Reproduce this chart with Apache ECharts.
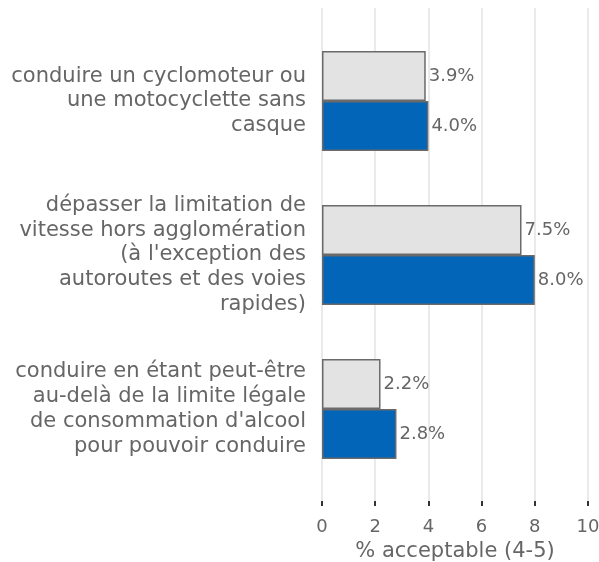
<!DOCTYPE html>
<html>
<head>
<meta charset="utf-8">
<script src="https://cdn.jsdelivr.net/npm/echarts@6/dist/echarts.min.js"></script>
<style>
	html, body { margin: 0; padding: 0; background: #fff; }
	#chart { width: 599px; height: 562px; }
</style>
</head>
<body>
<div id="chart"></div>
<script>
var categories = [
	'conduire un cyclomoteur ou\nune motocyclette sans\ncasque',
	'dépasser la limitation de\nvitesse hors agglomération\n(à l\'exception des\nautoroutes et des voies\nrapides)',
	'conduire en étant peut-être\nau-delà de la limite légale\nde consommation d\'alcool\npour pouvoir conduire'
];
var previousValues = [3.9, 7.5, 2.2];
var currentValues = [4.0, 8.0, 2.8];
var xTicks = [0, 2, 4, 6, 8, 10];

var chartDom = document.getElementById('chart');
var myChart = echarts.init(chartDom);
var font = 'DejaVu Sans';

var option = {
	animation: false,
	grid: [
		{ left: 322, right: 11, top: 24, bottom: 76, outerBoundsMode: 'none' },
		{ left: 322, right: 11, top: 8, bottom: 61, outerBoundsMode: 'none' }
	],
	xAxis: [{
		gridIndex: 0,
		type: 'value',
		min: 0,
		max: 10,
		interval: 2,
		show: false
	}, {
		gridIndex: 1,
		type: 'value',
		min: xTicks[0],
		max: xTicks[xTicks.length - 1],
		interval: 2,
		axisLine: { show: false },
		axisTick: { show: true, length: 5, lineStyle: { color: '#333', width: 2 } },
		splitLine: { show: true, lineStyle: { color: '#e3e3e3', width: 1.5 } },
		axisLabel: { color: '#666', fontSize: 18, fontFamily: font, margin: 17 },
		name: '% acceptable (4-5)',
		nameLocation: 'middle',
		nameGap: 40,
		nameTextStyle: { color: '#666', fontSize: 21, fontFamily: font }
	}],
	yAxis: [{
		gridIndex: 0,
		type: 'category',
		data: categories,
		inverse: true,
		axisLine: { show: false },
		axisTick: { show: false },
		axisLabel: {
			color: '#666',
			fontSize: 21,
			fontFamily: font,
			lineHeight: 24.8,
			margin: 16,
			align: 'right',
			verticalAlign: 'middle',
			padding: [12, 0, 0, 0]
		}
	}, {
		gridIndex: 1,
		type: 'value',
		show: false
	}],
	series: [{
		name: 'précédent',
		type: 'bar',
		xAxisIndex: 0,
		yAxisIndex: 0,
		data: previousValues,
		barWidth: 50,
		barGap: '0%',
		itemStyle: { color: '#e3e3e3', borderColor: '#6b6b6b', borderWidth: 1.5 },
		label: {
			show: true,
			position: 'right',
			distance: 3,
			color: '#666',
			fontSize: 18,
			fontFamily: font,
			formatter: function (p) { return p.value.toFixed(1) + '%'; }
		}
	}, {
		name: 'actuel',
		type: 'bar',
		xAxisIndex: 0,
		yAxisIndex: 0,
		data: currentValues,
		barWidth: 50,
		barGap: '0%',
		itemStyle: { color: '#0265b8', borderColor: '#6b6b6b', borderWidth: 1.5 },
		label: {
			show: true,
			position: 'right',
			distance: 3,
			color: '#666',
			fontSize: 18,
			fontFamily: font,
			formatter: function (p) { return p.value.toFixed(1) + '%'; }
		}
	}]
};

myChart.setOption(option);
</script>
</body>
</html>
